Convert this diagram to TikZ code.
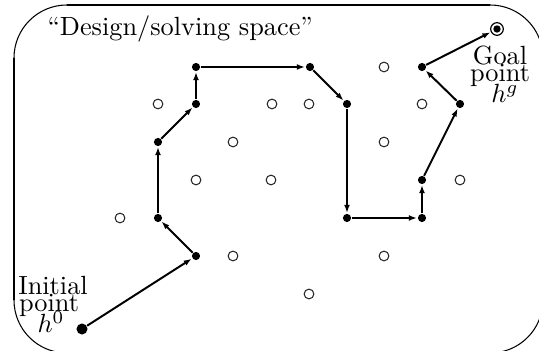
\documentclass[tikz,border=0pt]{standalone}
\usetikzlibrary{arrows.meta}
\begin{document}
\begin{tikzpicture}[x=0.38pt,y=-0.38pt,
  dot/.style={circle,fill=black,inner sep=0pt,minimum size=3.1pt},
  opn/.style={circle,draw=black!85,line width=0.4pt,inner sep=0pt,minimum size=3.7pt},
  startdot/.style={circle,fill=black,inner sep=0pt,minimum size=4.2pt},
  goaldot/.style={circle,draw=black,line width=0.45pt,inner sep=0pt,minimum size=4.8pt,
    path picture={\fill[black] (path picture bounding box.center) circle (1.4pt);}},
  mv/.style={line width=0.75pt,-{Latex[length=3pt,width=2.2pt]},shorten >=0.2pt},
  lbl/.style={anchor=base,inner sep=0pt}
]
\useasboundingbox (0,0) rectangle (539,351);
\begin{scope}
\clip (0,0) rectangle (539,351);
\draw[line width=0.4pt,rounded corners=20.1pt] (14,5) rectangle (543,353);
\end{scope}
\draw[line width=0.8pt] (67,5) -- (490,5);
\draw[line width=0.8pt] (14,58) -- (14,300);

\node[anchor=base west,inner sep=0pt] (title) at (47,36) {``Design/solving space''};

% open points
\foreach \n/\x/\y in {o1/158/104,o2/272/104,o3/309/104,o4/422/104,o5/384/67,
  o6/233/142,o7/384/142,o8/196/180,o9/271/180,o10/460/180,o11/120/218,
  o12/233/256,o13/384/256,o14/309/294}
  \node[opn] (\n) at (\x,\y) {};

% path points
\node[startdot] (h0) at (82,329) {};
\node[dot] (p1) at (196,256) {};
\node[dot] (p2) at (158,218) {};
\node[dot] (p3) at (158,142) {};
\node[dot] (p4) at (196,104) {};
\node[dot] (p5) at (196,67) {};
\node[dot] (p6) at (310,67) {};
\node[dot] (p7) at (347,104) {};
\node[dot] (p8) at (347,218) {};
\node[dot] (p9) at (422,218) {};
\node[dot] (p10) at (422,180) {};
\node[dot] (p11) at (460,104) {};
\node[dot] (p12) at (422,67) {};
\node[goaldot] (hg) at (497,29) {};

\draw[mv] (h0) -- (p1);
\draw[mv] (p1) -- (p2);
\draw[mv] (p2) -- (p3);
\draw[mv] (p3) -- (p4);
\draw[mv] (p4) -- (p5);
\draw[mv] (p5) -- (p6);
\draw[mv] (p6) -- (p7);
\draw[mv] (p7) -- (p8);
\draw[mv] (p8) -- (p9);
\draw[mv] (p9) -- (p10);
\draw[mv] (p10) -- (p11);
\draw[mv] (p11) -- (p12);
\draw[mv] (p12) -- (hg);

\node[lbl] (goal1) at (500,65) {Goal};
\node[lbl] (goal2) at (500,82) {point};
\node[lbl] (goal3) at (505,103) {$h^g$};
\node[lbl] (init1) at (53,295) {Initial};
\node[lbl] (init2) at (49,312) {point};
\node[lbl] (init3) at (51,333) {$h^0$};
\end{tikzpicture}
\end{document}
